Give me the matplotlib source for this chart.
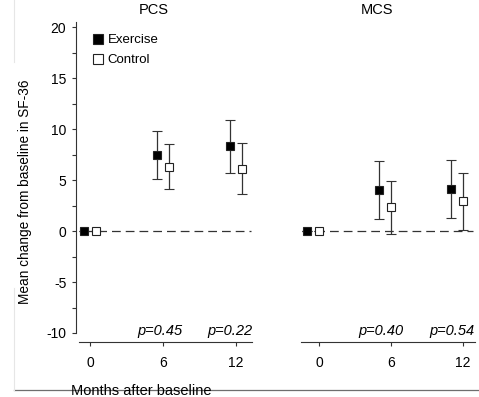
import matplotlib
matplotlib.use("Agg")
import matplotlib.pyplot as plt
from matplotlib.lines import Line2D
from matplotlib.ticker import MultipleLocator

plt.rcParams['font.family'] = ['Liberation Sans', 'DejaVu Sans']
plt.rcParams['axes.unicode_minus'] = False

months = [0, 6, 12]
pcs_ex_mean = [0, 7.5, 8.3]
pcs_ex_err = [0, 2.35, 2.6]
pcs_ct_mean = [0, 6.3, 6.1]
pcs_ct_err = [0, 2.2, 2.5]
mcs_ex_mean = [0, 4.0, 4.1]
mcs_ex_err = [0, 2.85, 2.85]
mcs_ct_mean = [0, 2.35, 2.9]
mcs_ct_err = [0, 2.6, 2.8]
pcs_p = ["p=0.45", "p=0.22"]
mcs_p = ["p=0.40", "p=0.54"]
titles = ["PCS", "MCS"]
yticks = [-10, -5, 0, 5, 10, 15, 20]

W, H = 479, 397
fig = plt.figure(figsize=(W / 100, H / 100), dpi=100)

def fx(px):
    return px / W

def fy(py):
    return 1 - py / H

LC = '#333333'
FS = 10

def make_ax(x0, x1, xlim, bounds, show_y):
    ax = fig.add_axes([fx(x0), fy(333), fx(x1 - x0), (333 - 22) / H])
    ax.set_xlim(*xlim)
    ax.set_ylim(-10, 20.5)
    ax.patch.set_alpha(0)
    for s in ['top', 'right']:
        ax.spines[s].set_visible(False)
    ax.spines['bottom'].set_position(('outward', 6.5))
    ax.spines['bottom'].set_bounds(*bounds)
    ax.spines['bottom'].set_color(LC)
    ax.spines['bottom'].set_linewidth(0.8)
    ax.set_xticks(months)
    ax.tick_params(axis='x', direction='out', length=3, width=0.8, color=LC,
                   labelsize=FS, pad=7)
    if show_y:
        ax.spines['left'].set_color(LC)
        ax.spines['left'].set_linewidth(0.8)
        ax.set_yticks(yticks)
        ax.yaxis.set_minor_locator(MultipleLocator(2.5))
        ax.tick_params(axis='y', which='both', direction='out', length=3,
                       width=0.8, color=LC, labelsize=FS, pad=4)
    else:
        ax.spines['left'].set_visible(False)
        ax.set_yticks([])
    return ax

ax1 = make_ax(76, 253, (-1.15, 13.43), (-0.9, 13.35), True)
ax2 = make_ax(301, 476, (-1.5, 13.08), (-1.5, 13.0), False)

def draw(ax, off_ex, off_ct, ex_m, ex_e, ct_m, ct_e, zx):
    ax.plot(zx, [0, 0], color=LC, lw=0.9, ls=(0, (7, 4)), zorder=1)
    ax.errorbar([m + off_ex for m in months], ex_m, yerr=ex_e, fmt='s',
                ms=6, mfc='black', mec='#222222', mew=0.8, ecolor=LC,
                elinewidth=0.9, capsize=3.6, capthick=0.9, zorder=3)
    ax.errorbar([m + off_ct for m in months], ct_m, yerr=ct_e, fmt='s',
                ms=6, mfc='white', mec='#222222', mew=0.8, ecolor=LC,
                elinewidth=0.9, capsize=3.6, capthick=0.9, zorder=3)

draw(ax1, -0.5, 0.5, pcs_ex_mean, pcs_ex_err, pcs_ct_mean, pcs_ct_err, [-0.5, 13.3])
draw(ax2, -1.0, 0.0, mcs_ex_mean, mcs_ex_err, mcs_ct_mean, mcs_ct_err, [-1.4, 12.8])

# titles
fig.text(fx(154), fy(10), titles[0], ha='center', va='center', fontsize=10.5)
fig.text(fx(377), fy(10), titles[1], ha='center', va='center', fontsize=10.5)

# p-values
for txt, xr in zip(pcs_p + mcs_p, [182, 252, 403, 474]):
    fig.text(fx(xr), fy(335), txt, ha='right', va='baseline', fontsize=10.5,
             style='italic')

# legend
handles = [Line2D([], [], ls='none', marker='s', ms=7.5, mfc='black', mec='#222222', mew=0.8),
           Line2D([], [], ls='none', marker='s', ms=7.5, mfc='white', mec='#222222', mew=0.8)]
fig.legend(handles, ['Exercise', 'Control'], loc='upper left',
           bbox_to_anchor=(fx(93), fy(34)), frameon=False, fontsize=9.5,
           handlelength=0.8, handletextpad=0.3, labelspacing=0.6,
           borderpad=0, borderaxespad=0)

# axis labels
fig.text(fx(25), fy(192), 'Mean change from baseline in SF-36', rotation=90,
         ha='center', va='center', fontsize=9.8)
fig.text(fx(141), fy(391), 'Months after baseline', ha='center', va='center',
         fontsize=10.5)

# frame artifacts
fig.add_artist(Line2D([fx(14), fx(478)], [fy(390), fy(390)], color='#6e6e6e', lw=0.9))
fig.add_artist(Line2D([fx(13.5), fx(13.5)], [fy(0), fy(62)], color='#e6e6e6', lw=0.8))
fig.add_artist(Line2D([fx(13.5), fx(13.5)], [fy(288), fy(390)], color='#e6e6e6', lw=0.8))

fig.savefig('out.png', dpi=100)
